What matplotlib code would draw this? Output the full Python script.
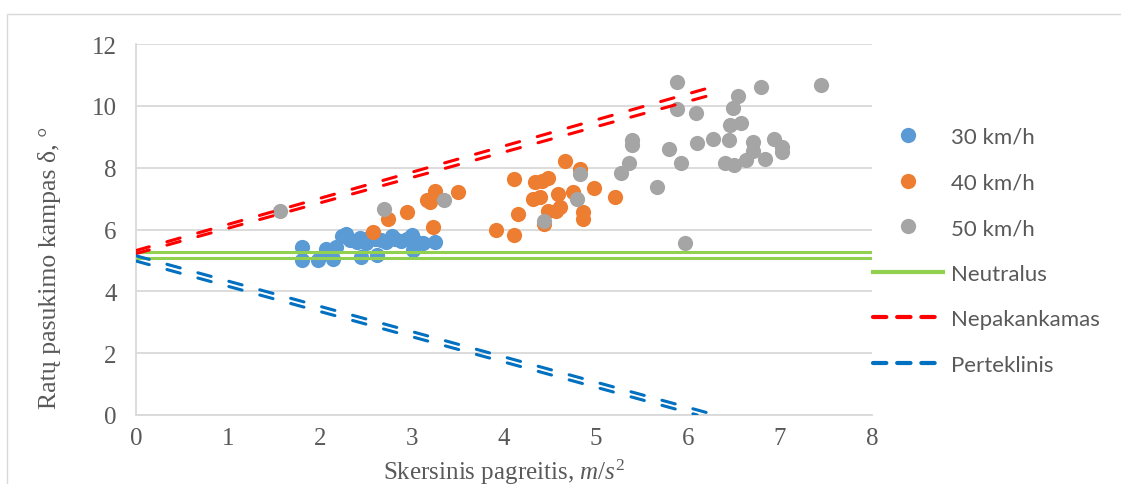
import matplotlib
matplotlib.use('Agg')
import matplotlib.pyplot as plt
from matplotlib.lines import Line2D
from matplotlib.patches import Rectangle

# measured points (lateral acceleration, steering angle)
x30 = [1.80, 1.80, 1.98, 2.06, 2.14, 2.17, 2.24, 2.28, 2.33, 2.40, 2.43, 2.45, 2.50, 2.55,
       2.60, 2.62, 2.66, 2.72, 2.78, 2.82, 2.88, 2.95, 3.00, 3.01, 3.05, 3.12, 3.25]
y30 = [5.43, 5.02, 5.02, 5.37, 5.06, 5.45, 5.78, 5.86, 5.65, 5.60, 5.72, 5.10, 5.55, 5.80,
       5.70, 5.18, 5.65, 5.60, 5.80, 5.68, 5.62, 5.70, 5.82, 5.35, 5.58, 5.56, 5.58]

x40 = [2.58, 2.74, 2.95, 3.16, 3.20, 3.25, 3.23, 3.50, 3.91, 4.11, 4.11, 4.15, 4.32, 4.34, 4.39,
       4.41, 4.43, 4.48, 4.48, 4.57, 4.59, 4.61, 4.66, 4.75, 4.83, 4.86, 4.86, 4.98, 5.21]
y40 = [5.91, 6.34, 6.56, 6.95, 6.90, 7.25, 6.07, 7.21, 6.00, 5.83, 7.62, 6.50, 6.99, 7.53, 7.05,
       7.58, 6.18, 7.66, 6.61, 6.61, 7.15, 6.72, 8.23, 7.21, 7.96, 6.58, 6.34, 7.35, 7.05]

x50 = [1.57, 2.70, 3.35, 4.44, 4.79, 4.83, 5.27, 5.36, 5.39, 5.39, 5.66, 5.79, 5.88, 5.88, 5.92,
       5.97, 6.09, 6.10, 6.27, 6.40, 6.45, 6.46, 6.49, 6.50, 6.54, 6.58, 6.63, 6.71, 6.71, 6.79,
       6.84, 6.93, 7.02, 7.02, 7.45]
y50 = [6.60, 6.67, 6.94, 6.29, 6.99, 7.78, 7.82, 8.16, 8.91, 8.72, 7.37, 8.61, 10.77, 9.90, 8.16,
       5.56, 9.77, 8.80, 8.93, 8.16, 8.88, 9.39, 9.93, 8.09, 10.31, 9.44, 8.26, 8.83, 8.53, 10.62,
       8.28, 8.93, 8.66, 8.50, 10.66]

# reference lines, each drawn twice (two nearly parallel lines)
neutral_x = [0, 8]
neutral_y = [[5.27, 5.27], [5.07, 5.07]]
under_x = [0, 6.25]
under_y = [[5.32, 10.60], [5.22, 10.35]]
over_x = [[0, 6.30], [0, 6.10]]
over_y = [[5.15, 0.0], [4.98, 0.0]]

labels = ['30 km/h', '40 km/h', '50 km/h', 'Neutralus', 'Nepakankamas', 'Perteklinis']
xticks = [0, 1, 2, 3, 4, 5, 6, 7, 8]
yticks = [0, 2, 4, 6, 8, 10, 12]

c30, c40, c50 = '#5B9BD5', '#ED7D31', '#A5A5A5'
cgreen, cred, cblue = '#92D050', '#FF0000', '#0070C0'
txt = '#595959'

plt.rcParams['mathtext.fontset'] = 'custom'
plt.rcParams['mathtext.rm'] = 'Liberation Serif'
plt.rcParams['mathtext.it'] = 'Liberation Serif:italic'

fig = plt.figure(figsize=(11.21, 4.85), dpi=100)
ax = fig.add_axes([136/1121, 1-416/485, (872-136)/1121, (416-45)/485])

fig.patches.append(Rectangle((7/1121, -0.1), 1.2, 1-15/485+0.1, transform=fig.transFigure,
                             fill=False, edgecolor='#D9D9D9', lw=1.0))

ms = 120
ax.scatter(x30, y30, s=ms, color=c30, lw=0, zorder=3)
ax.scatter(x40, y40, s=ms, color=c40, lw=0, zorder=3)
ax.scatter(x50, y50, s=ms, color=c50, lw=0, zorder=3)

dash = (4.5, 6)
for yy in neutral_y:
    ax.plot(neutral_x, yy, color=cgreen, lw=2.2, zorder=4, solid_capstyle='butt')
for yy in under_y:
    ax.plot(under_x, yy, color=cred, lw=2.2, zorder=4, dashes=dash, dash_capstyle='round')
for xx, yy in zip(over_x, over_y):
    ax.plot(xx, yy, color=cblue, lw=2.2, zorder=4, dashes=dash, dash_capstyle='round')

ax.set_xlim(0, 8)
ax.set_ylim(0, 12)
ax.set_xticks(xticks)
ax.set_yticks(yticks)
ax.tick_params(length=0, labelsize=18, labelcolor=txt)
ax.tick_params(axis='x', pad=9)
ax.tick_params(axis='y', pad=14)
for lab in ax.get_xticklabels() + ax.get_yticklabels():
    lab.set_fontfamily('Liberation Serif')
ax.grid(axis='y', color='#D9D9D9', lw=1.3, zorder=0)
ax.set_axisbelow(True)
for s in ['top', 'right']:
    ax.spines[s].set_visible(False)
for s in ['left', 'bottom']:
    ax.spines[s].set_color('#D9D9D9')
    ax.spines[s].set_linewidth(1.3)

fig.text(50/1121, 1-268/485, 'Ratų pasukimo kampas δ, °', rotation=90, ha='center', va='center',
         fontsize=18.5, color=txt, family='Liberation Serif')
fig.text(504/1121, 1-472/485, r'Skersinis pagreitis, $\mathit{m/s}^{\mathit{2}}$', ha='center', va='center',
         fontsize=18, color=txt, family='Liberation Serif')

handles = [
    Line2D([0], [0], ls='none', marker='o', ms=11, mfc=c30, mec='none'),
    Line2D([0], [0], ls='none', marker='o', ms=11, mfc=c40, mec='none'),
    Line2D([0], [0], ls='none', marker='o', ms=11, mfc=c50, mec='none'),
    Line2D([0], [0], color=cgreen, lw=3),
    Line2D([0], [0], color=cred, lw=3, dashes=(3.2, 2.6), dash_capstyle='round'),
    Line2D([0], [0], color=cblue, lw=3, dashes=(3.2, 2.6), dash_capstyle='round'),
]
leg = fig.legend(handles, labels, loc='upper left', bbox_to_anchor=(873/1121, 1-128/485),
                 frameon=False, handlelength=3.15, handletextpad=0.36,
                 labelspacing=1.15, borderaxespad=0, borderpad=0,
                 prop={'family': 'Lato', 'size': 16})
for t in leg.get_texts():
    t.set_color(txt)

fig.savefig('out.png', dpi=100)
